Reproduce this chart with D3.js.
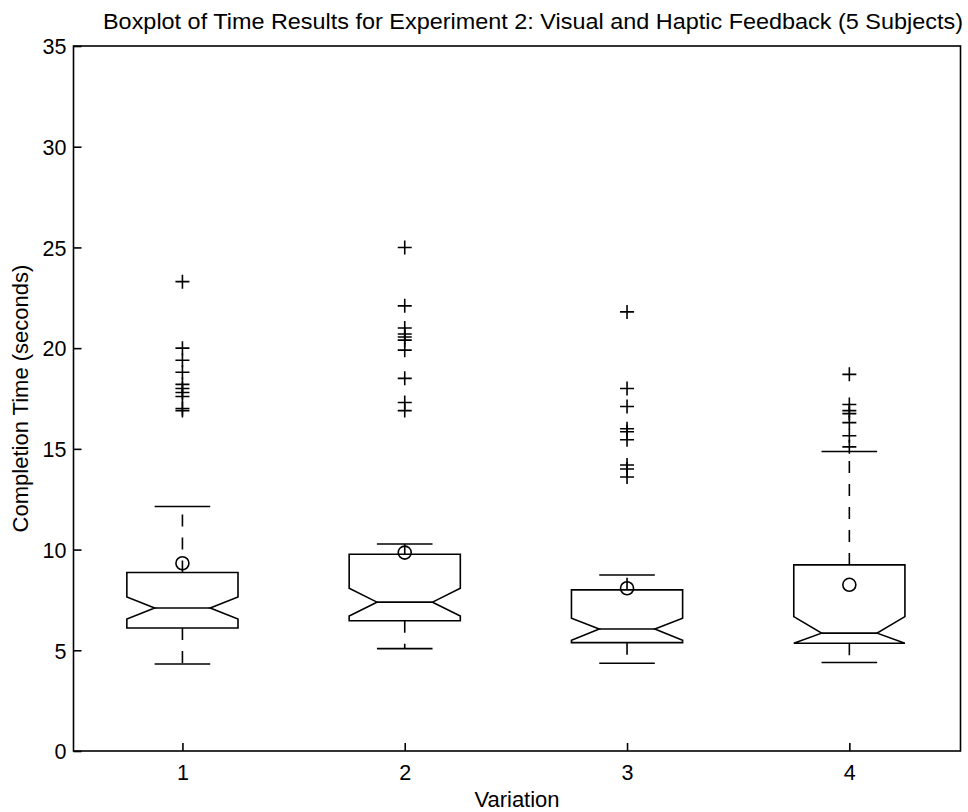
<!DOCTYPE html>
<html>
<head>
<meta charset="utf-8">
<script src="https://cdn.jsdelivr.net/npm/d3@7"></script>
<style>
  html, body { margin: 0; padding: 0; background: #fff; }
  svg { display: block; }
  text { font-family: "Liberation Sans", Arial, Helvetica, sans-serif; fill: #000; }
</style>
</head>
<body>
<svg id="chart" width="968" height="812"></svg>
<script>
// Completion-time summary per feedback variation (seconds)
const variations = [1, 2, 3, 4];
const q1Values      = [6.11, 6.47, 5.38, 5.35];
const medianValues  = [7.10, 7.39, 6.06, 5.85];
const q3Values      = [8.86, 9.77, 8.00, 9.24];
const notchLow      = [6.55, 6.70, 5.50, 5.35];
const notchHigh     = [7.65, 8.08, 6.59, 6.67];
const whiskerLow    = [4.32, 5.08, 4.36, 4.39];
const whiskerHigh   = [12.14, 10.28, 8.74, 14.87];
const meanValues    = [9.32, 9.85, 8.08, 8.25];
const outliers1 = [23.3, 20.0, 19.4, 18.8, 18.2, 18.0, 17.8, 17.6, 17.0, 16.9];
const outliers2 = [25.0, 22.1, 21.0, 20.7, 20.55, 20.4, 19.9, 18.5, 17.3, 16.9];
const outliers3 = [21.8, 18.0, 17.1, 16.0, 15.85, 15.45, 14.2, 14.0, 13.6];
const outliers4 = [18.7, 17.2, 16.9, 16.75, 16.3, 15.65, 15.1];
const outlierSets = [outliers1, outliers2, outliers3, outliers4];
const yTicks = [0, 5, 10, 15, 20, 25, 30, 35];

const titleText = "Boxplot of Time Results for Experiment 2: Visual and Haptic Feedback (5 Subjects)";
const xLabel = "Variation";
const yLabel = "Completion Time (seconds)";

const svg = d3.select("#chart");
const plot = { left: 73.5, right: 960.5, top: 46, bottom: 751 };

const x = d3.scaleLinear().domain([0.51, 4.5]).range([plot.left, plot.right]);
const y = d3.scaleLinear().domain([0, 35]).range([plot.bottom, plot.top]);

const boxHalf = 0.25;    // box half-width in axis units
const notchHalf = 0.125; // half-width at the median notch
const capHalf = 0.125;   // whisker cap half-width

const stroke = "#000";
const lw = 1.6;

// axes frame
svg.append("rect")
  .attr("x", plot.left).attr("y", plot.top)
  .attr("width", plot.right - plot.left).attr("height", plot.bottom - plot.top)
  .attr("fill", "none").attr("stroke", stroke).attr("stroke-width", lw);

// y axis (ticks pointing inward)
const yAxis = d3.axisRight(y).tickValues(yTicks).tickSize(8).tickFormat(d3.format("d"));
const gy = svg.append("g").attr("transform", `translate(${plot.left},0)`).call(yAxis);
gy.select(".domain").remove();
gy.selectAll(".tick line").attr("stroke", stroke).attr("stroke-width", lw);
gy.selectAll(".tick text")
  .attr("x", -7).attr("dy", "0.36em").attr("text-anchor", "end")
  .style("font-size", "21.5px");

// x axis (ticks pointing inward)
const xAxis = d3.axisTop(x).tickValues(variations).tickSize(8).tickFormat(d3.format("d"));
const gx = svg.append("g").attr("transform", `translate(0,${plot.bottom})`).call(xAxis);
gx.select(".domain").remove();
gx.selectAll(".tick line").attr("stroke", stroke).attr("stroke-width", lw);
gx.selectAll(".tick text")
  .attr("y", 29).attr("dy", 0).attr("text-anchor", "middle")
  .style("font-size", "21.5px");

// boxes
const boxes = variations.map((v, i) => ({
  v, q1: q1Values[i], med: medianValues[i], q3: q3Values[i],
  nlo: notchLow[i], nhi: notchHigh[i],
  wlo: whiskerLow[i], whi: whiskerHigh[i],
  mean: meanValues[i], out: outlierSets[i]
}));

const g = svg.append("g");

boxes.forEach(b => {
  const L = x(b.v - boxHalf), R = x(b.v + boxHalf);
  const nL = x(b.v - notchHalf), nR = x(b.v + notchHalf);
  const cx = x(b.v);

  // dashed whiskers
  g.append("line").attr("x1", cx).attr("x2", cx)
    .attr("y1", y(b.q3)).attr("y2", y(b.whi))
    .attr("stroke", stroke).attr("stroke-width", lw).attr("stroke-dasharray", "12,11");
  g.append("line").attr("x1", cx).attr("x2", cx)
    .attr("y1", y(b.q1)).attr("y2", y(b.wlo))
    .attr("stroke", stroke).attr("stroke-width", lw).attr("stroke-dasharray", "12,11");

  // whisker caps
  [b.whi, b.wlo].forEach(w => {
    g.append("line").attr("x1", x(b.v - capHalf)).attr("x2", x(b.v + capHalf))
      .attr("y1", y(w)).attr("y2", y(w))
      .attr("stroke", stroke).attr("stroke-width", lw);
  });

  // notched box outline
  const pts = [
    [L, y(b.q3)], [L, y(b.nhi)], [nL, y(b.med)], [L, y(b.nlo)], [L, y(b.q1)],
    [R, y(b.q1)], [R, y(b.nlo)], [nR, y(b.med)], [R, y(b.nhi)], [R, y(b.q3)]
  ];
  g.append("path")
    .attr("d", d3.line()(pts) + "Z")
    .attr("fill", "none").attr("stroke", stroke).attr("stroke-width", lw)
    .attr("stroke-linejoin", "miter");

  // median line across the notch
  g.append("line").attr("x1", nL).attr("x2", nR)
    .attr("y1", y(b.med)).attr("y2", y(b.med))
    .attr("stroke", stroke).attr("stroke-width", lw);

  // mean marker
  g.append("circle").attr("cx", cx).attr("cy", y(b.mean)).attr("r", 6.5)
    .attr("fill", "none").attr("stroke", stroke).attr("stroke-width", lw);

  // outliers as plus signs
  b.out.forEach(o => {
    const oy = y(o);
    g.append("path")
      .attr("d", `M${cx - 7},${oy}H${cx + 7}M${cx},${oy - 7}V${oy + 7}`)
      .attr("stroke", stroke).attr("stroke-width", lw).attr("fill", "none");
  });
});

// title and axis labels
svg.append("text")
  .attr("x", 533).attr("y", 29)
  .attr("text-anchor", "middle").style("font-size", "22px")
  .attr("textLength", 860).attr("lengthAdjust", "spacingAndGlyphs")
  .text(titleText);

svg.append("text")
  .attr("x", 517).attr("y", 807)
  .attr("text-anchor", "middle").style("font-size", "22px")
  .text(xLabel);

svg.append("text")
  .attr("transform", `translate(28,${(plot.top + plot.bottom) / 2}) rotate(-90)`)
  .attr("text-anchor", "middle").style("font-size", "22px")
  .text(yLabel);
</script>
</body>
</html>
